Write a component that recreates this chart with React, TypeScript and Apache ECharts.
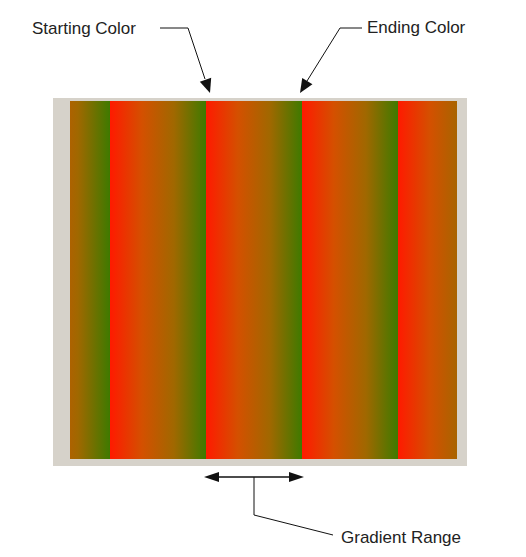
import React, { useEffect, useRef } from "react";
import * as echarts from "echarts";

const stripeStarts = [14, 110, 206, 302, 398];
const stripePeriod = 96;
const gradientColors = ["#ff1a00", "#d45000", "#a06800", "#3e7a00"];
const labels = ["Starting Color", "Ending Color", "Gradient Range"];

function arrowHead(tip: number[], from: number[], len = 14, half = 6) {
  const dx = tip[0] - from[0], dy = tip[1] - from[1];
  const l = Math.hypot(dx, dy);
  const ux = dx / l, uy = dy / l;
  const bx = tip[0] - ux * len, by = tip[1] - uy * len;
  return {
    type: "polygon",
    shape: { points: [tip, [bx - uy * half, by + ux * half], [bx + uy * half, by - ux * half]] },
    style: { fill: "#111" },
  };
}

export default function App() {
  const ref = useRef<HTMLDivElement>(null);
  useEffect(() => {
    const chart = echarts.init(ref.current!, null, { renderer: "svg" });
    const L = 70, R = 457, T = 101, B = 459;
    const stripes = stripeStarts.map((s) => {
      const x0 = Math.max(L, s), x1 = Math.min(R, s + stripePeriod);
      return {
        type: "rect",
        shape: { x: x0, y: T, width: x1 - x0, height: B - T },
        style: {
          fill: new echarts.graphic.LinearGradient(s, 0, s + stripePeriod, 0,
            gradientColors.map((c, i) => ({ offset: i / (gradientColors.length - 1), color: c })), true),
        },
      };
    });
    const ls = { stroke: "#111", lineWidth: 1 };
    const ts = { fill: "#222", fontSize: 17, fontFamily: "Liberation Sans, Arial, sans-serif", textVerticalAlign: "middle" };
    chart.setOption({
      animation: false,
      graphic: [
        { type: "rect", shape: { x: 53, y: 98, width: 414, height: 368 }, style: { fill: "#d6d2ca" } },
        ...stripes,
        { type: "text", x: 32, y: 28, style: { ...ts, text: labels[0] } },
        { type: "polyline", shape: { points: [[160, 28], [188, 28], [205, 79]] }, style: { ...ls, fill: null } },
        arrowHead([210, 93], [188, 28]),
        { type: "text", x: 367, y: 27, style: { ...ts, text: labels[1] } },
        { type: "polyline", shape: { points: [[362, 28], [340, 28], [307, 81]] }, style: { ...ls, fill: null } },
        arrowHead([300, 93], [340, 28]),
        { type: "line", shape: { x1: 215, y1: 477, x2: 293, y2: 477 }, style: { ...ls, lineWidth: 1.5 } },
        arrowHead([204, 477], [250, 477], 15, 5),
        arrowHead([304, 477], [250, 477], 15, 5),
        { type: "polyline", shape: { points: [[254, 477], [254, 515], [333, 535]] }, style: { ...ls, fill: null } },
        { type: "text", x: 341, y: 537, style: { ...ts, text: labels[2] } },
      ],
    });
    return () => chart.dispose();
  }, []);
  return <div ref={ref} style={{ position: "fixed", left: 0, top: 0, width: 526, height: 557, background: "#fff" }} />;
}
